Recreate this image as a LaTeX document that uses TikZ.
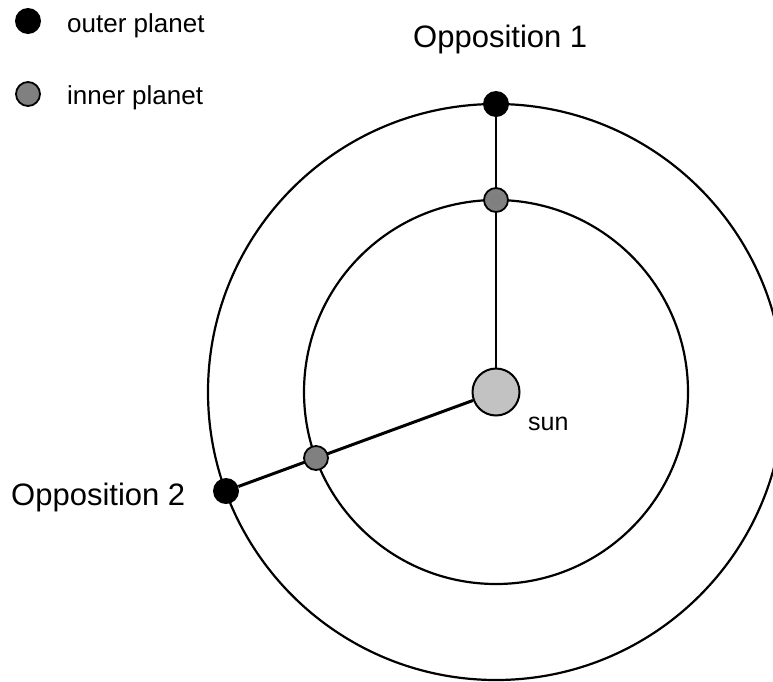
\documentclass[tikz,border=0pt]{standalone}
\usepackage{fontspec}
\setmainfont{Liberation Sans}
\usetikzlibrary{backgrounds}
\definecolor{sungray}{RGB}{194,194,194}
\definecolor{innergray}{RGB}{128,128,128}
\tikzset{
  orbit/.style={draw=black, line width=2.2pt},
  link/.style={draw=black, line width=2pt},
  thicklink/.style={draw=black, line width=3pt},
  outerp/.style={circle, fill=black, minimum size=26pt, inner sep=0pt},
  innerp/.style={circle, draw=black, line width=1.8pt, fill=innergray, minimum size=24pt, inner sep=0pt},
  sunp/.style={circle, draw=black, line width=2pt, fill=sungray, minimum size=47pt, inner sep=0pt},
  legendtext/.style={anchor=base west, inner sep=0pt, font=\fontsize{26}{30}\selectfont},
  oplabel/.style={anchor=base west, inner sep=0pt, font=\fontsize{31}{36}\selectfont},
  sunlabel/.style={anchor=base west, inner sep=0pt, font=\fontsize{25}{30}\selectfont}
}
\begin{document}
\begin{tikzpicture}[x=1pt,y=-1pt]
\useasboundingbox (0,0) rectangle (773,681);
\clip (0,0) rectangle (773,681);
% legend
\node[outerp] (legout) at (28,21) {};
\node[legendtext] (legouttext) at (67,32) {outer planet};
\node[innerp] (legin) at (28,94) {};
\node[legendtext] (legintext) at (67,104) {inner planet};
% sun and planets
\coordinate (c) at (496,392);
\node[sunp] (sun) at (c) {};
\node[outerp] (out1) at (496,104) {};
\node[innerp] (in1) at (496,200) {};
\node[outerp] (out2) at (226,491) {};
\node[innerp] (in2) at (316,458) {};
% labels
\node[oplabel] (op1) at (413,47) {Opposition 1};
\node[oplabel] (op2) at (11,505) {Opposition 2};
\node[sunlabel] (sunlab) at (528,430) {sun};
\begin{scope}[on background layer]
  \draw[orbit] (c) circle[radius=192];
  \draw[orbit] (c) circle[radius=288];
  \draw[link] (sun) -- (out1);
  \draw[thicklink] (sun) -- (out2);
\end{scope}
\end{tikzpicture}
\end{document}
